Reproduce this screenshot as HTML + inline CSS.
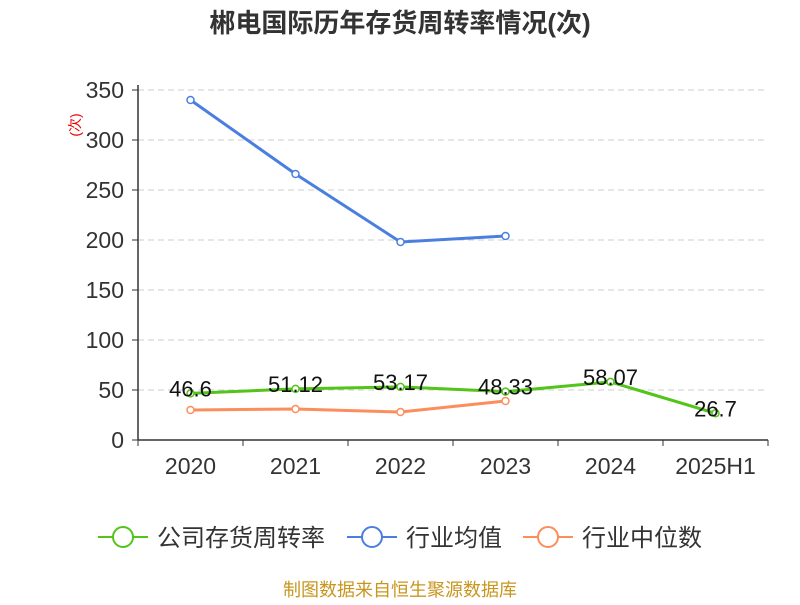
<!DOCTYPE html>
<html><head><meta charset="utf-8"><style>
body{margin:0;background:#fff;width:800px;height:600px;overflow:hidden}
svg text{font-family:"Liberation Sans","Noto Sans CJK SC",sans-serif}
</style></head><body>
<svg id="c" width="800" height="600"></svg>
<script>
const categories=["2020","2021","2022","2023","2024","2025H1"];
const companyValues=[46.6,51.12,53.17,48.33,58.07,26.7];
const companyLabels=["46.6","51.12","53.17","48.33","58.07","26.7"];
const industryAvg=[340,266,198,204];
const industryMedian=[30,31,28,39];
const yTicks=[0,50,100,150,200,250,300,350];
const svg=document.getElementById('c');
const NS='http://www.w3.org/2000/svg';
const x0=138,x1=768,yb=440,yt=90,ymax=350;
const bw=(x1-x0)/categories.length;
const X=i=>x0+bw*(i+0.5);
const Y=v=>yb-(v/ymax)*(yb-yt);
function el(t,a,p){const e=document.createElementNS(NS,t);for(const k in a)e.setAttribute(k,a[k]);(p||svg).appendChild(e);return e;}
let t=el('text',{x:400,y:32,'text-anchor':'middle','font-size':26,'font-weight':'bold',fill:'#333'});t.textContent='郴电国际历年存货周转率情况(次)';


t=el('text',{x:0,y:0,'font-size':14,fill:'#e00',transform:'translate(80,125) rotate(-90)','text-anchor':'middle'});t.textContent='(次)';


yTicks.forEach(v=>{
 if(v>0){const g=el('line',{x1:x0,x2:x1,y1:Y(v),y2:Y(v),stroke:'#ccc','stroke-dasharray':'6,4'});
 
 }
 el('line',{x1:x0-6,x2:x0,y1:Y(v),y2:Y(v),stroke:'#333'});
 const l=el('text',{x:x0-14,y:Y(v)+8,'text-anchor':'end','font-size':23,fill:'#333'});l.textContent=v;
 
 
});
el('line',{x1:x0,x2:x0,y1:yt-5,y2:yb,stroke:'#333','stroke-width':1.5});
el('line',{x1:x0,x2:x1,y1:yb,y2:yb,stroke:'#333','stroke-width':1.5});
categories.forEach((c,i)=>{
 el('line',{x1:x0+bw*i,x2:x0+bw*i,y1:yb,y2:yb+6,stroke:'#333'});
 const l=el('text',{x:X(i),y:474,'text-anchor':'middle','font-size':23,fill:'#333'});l.textContent=c;
 
 
});
el('line',{x1:x1,x2:x1,y1:yb,y2:yb+6,stroke:'#333'});
function series(vals,color,name){
 const p=el('polyline',{points:vals.map((v,i)=>X(i)+','+Y(v)).join(' '),fill:'none',stroke:color,'stroke-width':3});
 
 
 vals.forEach((v,i)=>{const c=el('circle',{cx:X(i),cy:Y(v),r:3.5,fill:'#fff',stroke:color,'stroke-width':1.5});
 
 });
}
series(industryMedian,'#fc8d5c','industry-median');
series(industryAvg,'#4a7fe0','industry-average');
series(companyValues,'#52c41a','company');
companyValues.forEach((v,i)=>{const l=el('text',{x:X(i),y:Y(v)+3,'text-anchor':'middle','font-size':22,fill:'#111'});l.textContent=companyLabels[i];
 
 });
[['公司存货周转率','#52c41a',98],['行业均值','#4a7fe0',347],['行业中位数','#fc8d5c',523]].forEach(([n,c,x])=>{
 const g=el('g',{});
 
 
 el('line',{x1:x,x2:x+50,y1:537,y2:537,stroke:c,'stroke-width':2},g);
 el('circle',{cx:x+25,cy:537,r:10,fill:'#fff',stroke:c,'stroke-width':2},g);
 const l=el('text',{x:x+59,y:546,'font-size':24,fill:'#333'},g);l.textContent=n;
});
t=el('text',{x:400,y:596,'text-anchor':'middle','font-size':18,fill:'#c8961e'});t.textContent='制图数据来自恒生聚源数据库';


</script>
</body></html>
